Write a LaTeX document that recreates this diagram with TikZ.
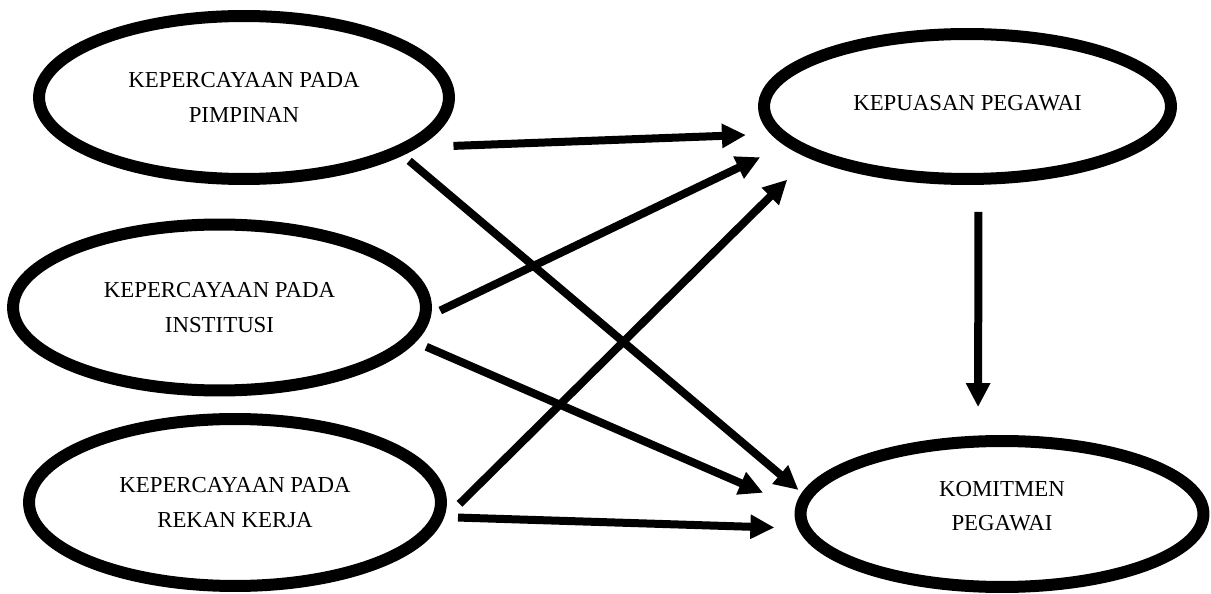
\documentclass[tikz,border=0pt]{standalone}
\usepackage{fontspec}
\setmainfont{Liberation Serif}
\usetikzlibrary{arrows.meta, shapes.geometric, positioning}
\tikzset{
    elips/.style={draw, ellipse, line width=0.24cm, align=center, font=\fontsize{13}{19.5}\selectfont},
    panah/.style={line width=0.16cm, -{Triangle[length=0.48cm, width=0.46cm]}}
}

\begin{document}
\begin{tikzpicture}[x=0.02cm, y=-0.02cm]
            \useasboundingbox (0, 0) rectangle (1211, 594);
            \node[elips, minimum width=8.2cm, minimum height=3.26cm] (pimpinan) at (244, 97.5) {KEPERCAYAAN PADA\\PIMPINAN};
            \node[elips, minimum width=8.26cm, minimum height=3.32cm] (institusi) at (219.5, 307.5) {KEPERCAYAAN PADA\\INSTITUSI};
            \node[elips, minimum width=8.24cm, minimum height=3.34cm] (rekan) at (235, 502.5) {KEPERCAYAAN PADA\\REKAN KERJA};
            \node[elips, minimum width=8.14cm, minimum height=2.9cm] (kepuasan) at (967.5, 106.5) {KEPUASAN PEGAWAI\\[-15pt]};
            \node[elips, minimum width=8.06cm, minimum height=2.92cm] (komitmen) at (1002, 514) {KOMITMEN\\PEGAWAI\\[-10pt]};
            \draw[panah, shorten <=0.72cm, shorten >=0.51cm] (pimpinan.-16.4) -- (kepuasan.188.7);
            \draw[panah, shorten <=0.175cm, shorten >=0.093cm] (pimpinan.-20.06) -- (komitmen.174.6);
            \draw[panah, shorten <=0.2cm, shorten >=0.557cm] (institusi.-2.38) -- (kepuasan.192.75);
            \draw[panah, shorten <=0.239cm, shorten >=0.704cm] (institusi.-10.43) -- (komitmen.178);
            \draw[panah, shorten <=0.476cm, shorten >=0.618cm] (rekan.-5.3) -- (kepuasan.198.2);
            \draw[panah, shorten <=0.278cm, shorten >=0.472cm] (rekan.-4.7) -- (komitmen.184.4);
            \draw[panah, shorten <=0.54cm, shorten >=0.57cm] (kepuasan.-82.4) -- (komitmen.107);
        \end{tikzpicture}
\end{document}
